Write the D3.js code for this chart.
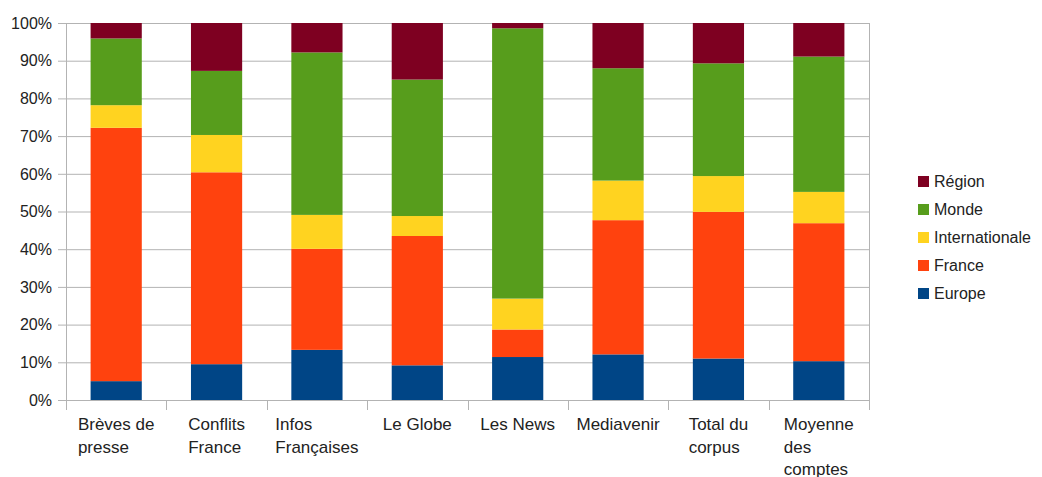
<!DOCTYPE html>
<html><head><meta charset="utf-8">
<script src="https://cdn.jsdelivr.net/npm/d3@7"></script>
<style>body{margin:0;background:#fff}svg{display:block}text{font-family:"Liberation Sans",Arial,sans-serif;fill:#222}</style>
</head><body>
<svg id="c" width="1042" height="477"></svg>
<script>
const categories = ["Brèves de\npresse","Conflits\nFrance","Infos\nFrançaises","Le Globe","Les News","Mediavenir","Total du\ncorpus","Moyenne\ndes\ncomptes"];
const seriesNames = ["Europe","France","Internationale","Monde","Région"];
const europe        = [5.0, 9.5, 13.3, 9.2, 11.4, 12.1, 11.0, 10.3];
const france        = [67.2, 50.9, 26.8, 34.3, 7.3, 35.6, 38.9, 36.6];
const internationale= [6.0, 9.9, 9.0, 5.3, 8.2, 10.5, 9.5, 8.3];
const monde         = [17.7, 17.0, 43.1, 36.2, 71.7, 29.8, 29.9, 35.9];
const region        = [4.1, 12.7, 7.8, 15.0, 1.4, 12.0, 10.7, 8.9];
const colors = ["#004586","#ff420e","#ffd320","#579d1c","#7e0021"];
const yTicks = [0,10,20,30,40,50,60,70,80,90,100];

const svg = d3.select("#c");
const L = 66, R = 869, T = 23, B = 400;
const x = d3.scaleBand().domain(d3.range(categories.length)).range([L, R]).paddingInner(0.49).paddingOuter(0.245);
const y = d3.scaleLinear().domain([0, 100]).range([B, T]);
const step = x.step();

const rows = categories.map((c, i) => ({i, Europe: europe[i], France: france[i], Internationale: internationale[i], Monde: monde[i], "Région": region[i]}));
const stacked = d3.stack().keys(seriesNames).offset(d3.stackOffsetExpand)(rows);

// gridlines
svg.append("g").selectAll("line").data(yTicks).join("line")
  .attr("x1", L - 8).attr("x2", R).attr("y1", d => y(d) + 0.5).attr("y2", d => y(d) + 0.5)
  .attr("stroke", "#b3b3b3").attr("stroke-width", 1);
// right border
svg.append("line").attr("x1", R + 0.5).attr("x2", R + 0.5).attr("y1", T).attr("y2", B).attr("stroke", "#b3b3b3");
// y labels
svg.append("g").selectAll("text").data(yTicks).join("text")
  .attr("x", 52).attr("y", d => y(d)).attr("dy", "0.36em").attr("text-anchor", "end")
  .style("font-size", "16px").text(d => d + "%");

// bars
svg.append("g").selectAll("g").data(stacked).join("g")
  .attr("fill", (d, k) => colors[k])
  .selectAll("rect").data(d => d).join("rect")
  .attr("x", d => x(d.data.i)).attr("width", x.bandwidth())
  .attr("y", d => y(d[1] * 100)).attr("height", d => y(d[0] * 100) - y(d[1] * 100));

// axes lines
svg.append("line").attr("x1", L + 0.5).attr("x2", L + 0.5).attr("y1", T).attr("y2", B + 10).attr("stroke", "#b3b3b3");
svg.append("line").attr("x1", L).attr("x2", R).attr("y1", B + 0.5).attr("y2", B + 0.5).attr("stroke", "#b3b3b3");
// bottom ticks at boundaries
const bounds = d3.range(categories.length + 1).map(k => L + k * step);
svg.append("g").selectAll("line").data(bounds).join("line")
  .attr("x1", d => Math.round(d) + 0.5).attr("x2", d => Math.round(d) + 0.5)
  .attr("y1", B).attr("y2", B + 10).attr("stroke", "#b3b3b3");

// category labels
categories.forEach((c, i) => {
  const lines = c.split("\n");
  const t = svg.append("text").style("font-size", "17px");
  const spans = lines.map((ln, j) => t.append("tspan").attr("y", 430 + j * 22.5).text(ln));
  const w = d3.max(spans, s => s.node().getComputedTextLength());
  const cx = x(i) + x.bandwidth() / 2;
  spans.forEach(s => s.attr("x", cx - w / 2));
});

// legend
const legendOrder = ["Région","Monde","Internationale","France","Europe"];
const lg = svg.append("g");
legendOrder.forEach((n, j) => {
  const k = seriesNames.indexOf(n);
  const yy = 176 + j * 28;
  lg.append("rect").attr("x", 918).attr("y", yy).attr("width", 11).attr("height", 11).attr("fill", colors[k]);
  lg.append("text").attr("x", 934).attr("y", yy + 11).style("font-size", "16px").text(n);
});
</script>
</body></html>
